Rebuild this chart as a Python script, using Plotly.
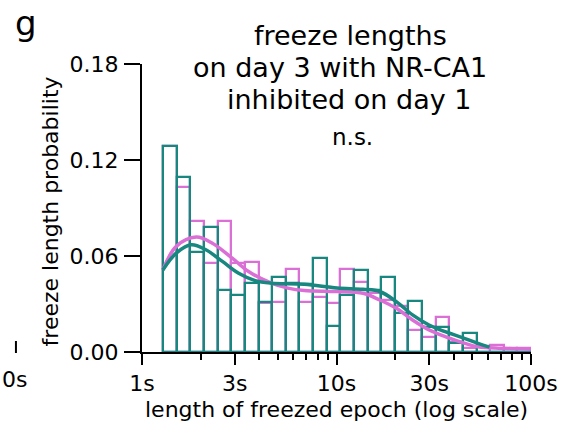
import numpy as np
import plotly.graph_objects as go

# ---------------- data ----------------
# histogram bins (log-spaced, seconds)
bin_lo_s = 1.285
bin_hi_s = 100.0
n_bins = 27

# probabilities per bin
teal_hist = [0.129, 0.1096, 0.0626, 0.0782, 0.039, 0.0359, 0.0434, 0.031, 0.047,
             0.043, 0.0426, 0.059, 0.016, 0.0357, 0.051, 0.039, 0.047, 0.0242,
             0.032, 0.0159, 0.0159, 0.0054, 0.012, 0.0, 0.0, 0.0, 0.0]
pink_hist = [0.129, 0.103, 0.0818, 0.0559, 0.0818, 0.0559, 0.056, 0.0306, 0.031,
             0.052, 0.031, 0.0346, 0.0305, 0.052, 0.0435, 0.037, 0.0325, 0.029,
             0.0138, 0.0092, 0.022, 0.0065, 0.0025, 0.0, 0.0046, 0.0027, 0.0027]

# smoothed density curves (x in seconds)
teal_curve_x = [1.28, 1.50, 1.79, 2.13, 2.59, 3.14, 3.82, 4.63, 6.84, 10.07, 13.7,
                16.7, 20.3, 24.6, 29.9, 36.2, 44.0, 53.4, 61.2]
teal_curve_y = [0.0513, 0.0618, 0.067, 0.0639, 0.0566, 0.0492, 0.0446, 0.043, 0.0423,
                0.040, 0.0392, 0.0378, 0.0315, 0.0232, 0.0169, 0.0127, 0.0092, 0.0054, 0.003]
pink_curve_x = [1.28, 1.50, 1.90, 2.30, 2.91, 3.53, 4.63, 5.63, 6.84, 10.07, 13.7,
                16.7, 20.3, 24.6, 29.9, 36.2, 45.8, 53.4, 70.2, 99.0]
pink_curve_y = [0.0513, 0.066, 0.0718, 0.068, 0.0586, 0.0503, 0.043, 0.0399, 0.0384,
                0.0378, 0.0367, 0.0325, 0.0273, 0.020, 0.0138, 0.0096, 0.0054, 0.0033,
                0.0023, 0.0017]

major_ticks_s = [1, 3, 10, 30, 100]
major_labels = ["1s", "3s", "10s", "30s", "100s"]
minor_ticks_s = [2, 4, 5, 6, 7, 8, 9, 20, 40, 50, 60, 70, 80, 90]
y_ticks = [0.0, 0.06, 0.12, 0.18]
y_labels = ["0.00", "0.06", "0.12", "0.18"]

title_lines = ["freeze lengths", "on day 3 with NR-CA1", "inhibited on day 1"]

# ---------------- figure ----------------
TEAL = "#17877f"
PINK = "#da70d6"
FONT = "DejaVu Sans"

edges = np.linspace(np.log10(bin_lo_s), np.log10(bin_hi_s), n_bins + 1)
centers = (edges[:-1] + edges[1:]) / 2
width = edges[1] - edges[0]

fig = go.Figure()
fig.add_trace(go.Bar(x=centers, y=pink_hist, width=width,
                     marker=dict(color="rgba(0,0,0,0)", line=dict(color=PINK, width=2.3)),
                     showlegend=False))
fig.add_trace(go.Bar(x=centers, y=teal_hist, width=width,
                     marker=dict(color="rgba(0,0,0,0)", line=dict(color=TEAL, width=2.3)),
                     showlegend=False))
fig.add_trace(go.Scatter(x=np.log10(pink_curve_x), y=pink_curve_y, mode="lines",
                         line=dict(color=PINK, width=3.5, shape="spline"), showlegend=False))
fig.add_trace(go.Scatter(x=np.log10(teal_curve_x), y=teal_curve_y, mode="lines",
                         line=dict(color=TEAL, width=3.5, shape="spline"), showlegend=False))

L, R, T, B = 142, 537, 64, 352
W, H = R - L, B - T


def px(x):
    return (x - L) / W


def py(y):
    return (B - y) / H


fig.update_layout(
    width=570, height=421,
    margin=dict(l=L, r=570 - R, t=T, b=421 - B),
    plot_bgcolor="white", paper_bgcolor="white",
    barmode="overlay", bargap=0,
    font=dict(family=FONT, size=22, color="black"),
    xaxis=dict(range=[0, 2], showgrid=False, zeroline=False, showline=True,
               linecolor="black", linewidth=2, ticks="outside", ticklen=11,
               tickwidth=2, tickcolor="black",
               tickvals=list(np.log10(major_ticks_s)), ticktext=major_labels,
               tickfont=dict(size=22),
               minor=dict(tickmode="array", tickvals=list(np.log10(minor_ticks_s)),
                          ticks="outside", ticklen=6, tickwidth=2, tickcolor="black",
                          showgrid=False)),
    yaxis=dict(range=[0, 0.18], showgrid=False, zeroline=False, showline=True,
               linecolor="black", linewidth=2, ticks="outside", ticklen=16,
               tickwidth=2, tickcolor="black", tickvals=y_ticks, ticktext=y_labels,
               tickfont=dict(size=22), ticklabelstandoff=1),
)

ann = []
title_pos = [(354, 36), (343, 68), (352, 99)]
for line, (xx, yy) in zip(title_lines, title_pos):
    ann.append(dict(text=line, x=px(xx), y=py(yy), xref="paper", yref="paper",
                    xanchor="center", yanchor="middle", showarrow=False,
                    font=dict(size=27)))
ann.append(dict(text="n.s.", x=px(356), y=py(137), xref="paper", yref="paper",
                xanchor="center", yanchor="middle", showarrow=False, font=dict(size=23)))
ann.append(dict(text="freeze length probability", x=px(49), y=py(211), xref="paper",
                yref="paper", xanchor="center", yanchor="middle", textangle=-90,
                showarrow=False, font=dict(size=22)))
ann.append(dict(text="length of freezed epoch (log scale)", x=px(340), y=py(409),
                xref="paper", yref="paper", xanchor="center", yanchor="middle",
                showarrow=False, font=dict(size=22)))
ann.append(dict(text="g", x=px(11), y=py(23), xref="paper", yref="paper",
                xanchor="left", yanchor="middle", showarrow=False, font=dict(size=34)))
ann.append(dict(text="0s", x=px(27), y=py(379), xref="paper", yref="paper",
                xanchor="right", yanchor="middle", showarrow=False, font=dict(size=22)))
fig.update_layout(annotations=ann)
fig.add_shape(type="line", xref="paper", yref="paper", x0=px(14), x1=px(14),
              y0=py(341), y1=py(353), line=dict(color="black", width=2))

fig.write_html("out.html")
